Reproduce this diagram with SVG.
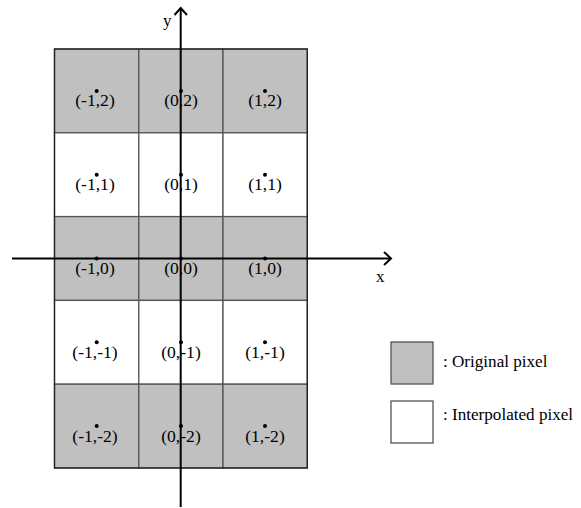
<svg xmlns="http://www.w3.org/2000/svg" width="581" height="508" viewBox="0 0 581 508">
<style>
.o{fill:#c0c0c0;stroke:#555;stroke-width:1.3}
.i{fill:#fff;stroke:#555;stroke-width:1.3}
.t{font-family:"Liberation Serif","Times New Roman",serif;font-size:17.6px;fill:#000;text-anchor:middle}
.l{font-family:"Liberation Serif","Times New Roman",serif;font-size:17.1px;fill:#000}
.ax{stroke:#000;stroke-width:2;fill:none}
.d{fill:#000}
</style>
<rect width="581" height="508" fill="#fff"/>
<g id="grid">
<g id="p-1_2"><rect class="o" x="54.5" y="49" width="84.3" height="83.8"/><circle class="d" cx="96.7" cy="90.9" r="2"/><text class="t" x="95" y="106">(-1,2)</text></g>
<g id="p0_2"><rect class="o" x="138.8" y="49" width="84.2" height="83.8"/><circle class="d" cx="181" cy="90.9" r="2"/><text class="t" x="181" y="106">(0,2)</text></g>
<g id="p1_2"><rect class="o" x="223" y="49" width="84.3" height="83.8"/><circle class="d" cx="265" cy="90.9" r="2"/><text class="t" x="265" y="106">(1,2)</text></g>
<g id="p-1_1"><rect class="i" x="54.5" y="132.8" width="84.3" height="83.8"/><circle class="d" cx="96.7" cy="174.7" r="2"/><text class="t" x="95" y="190">(-1,1)</text></g>
<g id="p0_1"><rect class="i" x="138.8" y="132.8" width="84.2" height="83.8"/><circle class="d" cx="181" cy="174.7" r="2"/><text class="t" x="181" y="190">(0,1)</text></g>
<g id="p1_1"><rect class="i" x="223" y="132.8" width="84.3" height="83.8"/><circle class="d" cx="265" cy="174.7" r="2"/><text class="t" x="265" y="190">(1,1)</text></g>
<g id="p-1_0"><rect class="o" x="54.5" y="216.6" width="84.3" height="83.8"/><circle class="d" cx="96.7" cy="258.5" r="2"/><text class="t" x="95" y="273.5">(-1,0)</text></g>
<g id="p0_0"><rect class="o" x="138.8" y="216.6" width="84.2" height="83.8"/><circle class="d" cx="181" cy="258.5" r="2"/><text class="t" x="181" y="273.5">(0,0)</text></g>
<g id="p1_0"><rect class="o" x="223" y="216.6" width="84.3" height="83.8"/><circle class="d" cx="265" cy="258.5" r="2"/><text class="t" x="265" y="273.5">(1,0)</text></g>
<g id="p-1_-1"><rect class="i" x="54.5" y="300.4" width="84.3" height="83.8"/><circle class="d" cx="96.7" cy="342.3" r="2"/><text class="t" x="95" y="358">(-1,-1)</text></g>
<g id="p0_-1"><rect class="i" x="138.8" y="300.4" width="84.2" height="83.8"/><circle class="d" cx="181" cy="342.3" r="2"/><text class="t" x="181" y="358">(0,-1)</text></g>
<g id="p1_-1"><rect class="i" x="223" y="300.4" width="84.3" height="83.8"/><circle class="d" cx="265" cy="342.3" r="2"/><text class="t" x="265" y="358">(1,-1)</text></g>
<g id="p-1_-2"><rect class="o" x="54.5" y="384.2" width="84.3" height="83.8"/><circle class="d" cx="96.7" cy="426.1" r="2"/><text class="t" x="95" y="442">(-1,-2)</text></g>
<g id="p0_-2"><rect class="o" x="138.8" y="384.2" width="84.2" height="83.8"/><circle class="d" cx="181" cy="426.1" r="2"/><text class="t" x="181" y="442">(0,-2)</text></g>
<g id="p1_-2"><rect class="o" x="223" y="384.2" width="84.3" height="83.8"/><circle class="d" cx="265" cy="426.1" r="2"/><text class="t" x="265" y="442">(1,-2)</text></g>
<rect x="54.5" y="49" width="252.8" height="419" fill="none" stroke="#222" stroke-width="1.3"/>
</g>
<g id="connectors">
<path class="ax" d="M12 258.5 H391"/>
<path class="ax" d="M384 252 L391 258.5 L384 265"/>
<path class="ax" d="M180.7 507 V8"/>
<path class="ax" d="M174.5 15 L180.7 8 L187 15"/>
</g>
<g id="labels">
<text class="l" x="163" y="26">y</text>
<text class="l" x="376" y="282">x</text>
</g>
<g id="legend">
<g id="leg-orig"><rect class="o" x="391" y="342" width="42" height="42" stroke="#333"/><text class="l" x="443" y="367">: Original pixel</text></g>
<g id="leg-interp"><rect class="i" x="391" y="401" width="42" height="42" stroke="#333"/><text class="l" x="443" y="420">: Interpolated pixel</text></g>
</g>
</svg>
